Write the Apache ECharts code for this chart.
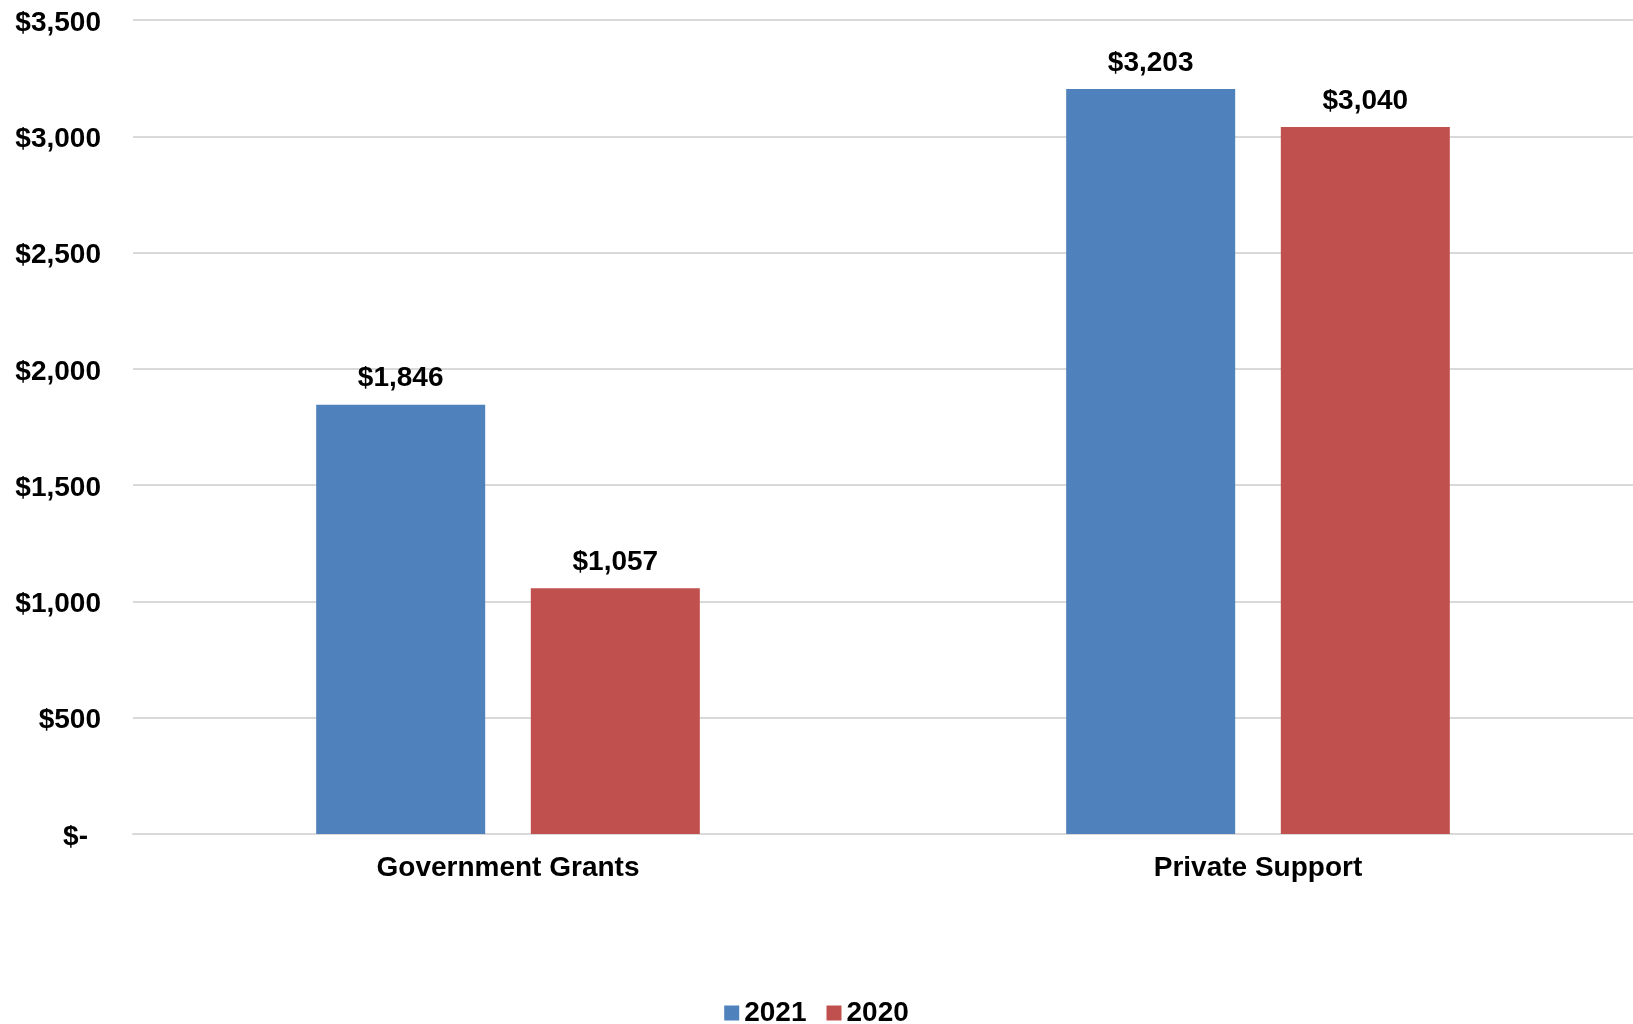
<!DOCTYPE html>
<html>
<head>
<meta charset="utf-8">
<script src="https://cdn.jsdelivr.net/npm/echarts@6/dist/echarts.min.js"></script>
<style>
  html, body { margin: 0; padding: 0; background: #fff; }
  #chart { width: 1633px; height: 1024px; }
</style>
</head>
<body>
<div id="chart"></div>
<script>
const categories = ['Government Grants', 'Private Support'];
const seriesNames = ['2021', '2020'];
const values2021 = [1846, 3203];
const values2020 = [1057, 3040];
const yTicks = [0, 500, 1000, 1500, 2000, 2500, 3000, 3500];

const FONT = '"Liberation Sans", Arial, sans-serif';
const FS = 28;

const money = (v) => '$' + Number(v).toLocaleString('en-US');

const chart = echarts.init(document.getElementById('chart'));

const labelStyle = {
  show: true,
  position: 'top',
  distance: 12,
  fontFamily: FONT,
  fontWeight: 'bold',
  fontSize: FS,
  color: '#000',
  formatter: (p) => money(p.value)
};

const option = {
  animation: false,
  backgroundColor: '#fff',
  grid: {
    left: 133,
    width: 1506,
    top: 20,
    bottom: 190
  },
  legend: {
    data: seriesNames,
    top: 994,
    left: 'center',
    itemWidth: 15,
    itemHeight: 15,
    itemGap: 20,
    icon: 'rect',
    textStyle: {
      fontFamily: FONT,
      fontWeight: 'bold',
      fontSize: FS,
      color: '#000'
    }
  },
  xAxis: {
    type: 'category',
    data: categories,
    axisLine: { show: true, lineStyle: { color: '#d9d9d9', width: 2 } },
    axisTick: { show: false },
    axisLabel: {
      margin: 20,
      fontFamily: FONT,
      fontWeight: 'bold',
      fontSize: FS,
      color: '#000'
    }
  },
  yAxis: {
    type: 'value',
    min: yTicks[0],
    max: yTicks[yTicks.length - 1],
    interval: 500,
    axisLine: { show: false },
    axisTick: { show: false },
    splitLine: { lineStyle: { color: '#d9d9d9', width: 2 } },
    axisLabel: {
      margin: 32,
      formatter: (v) => (v === 0 ? '{dash|$-}' : '{v|' + money(v) + '}'),
      rich: {
        v: {
          fontFamily: FONT,
          fontWeight: 'bold',
          fontSize: FS,
          color: '#000',
          padding: [6, 0, 0, 0]
        },
        dash: {
          fontFamily: FONT,
          fontWeight: 'bold',
          fontSize: FS,
          color: '#000',
          padding: [6, 13, 0, 0]
        }
      }
    }
  },
  series: [
    {
      name: seriesNames[0],
      type: 'bar',
      data: values2021,
      barWidth: 169,
      barGap: '27%',
      itemStyle: { color: '#4F81BD' },
      label: labelStyle
    },
    {
      name: seriesNames[1],
      type: 'bar',
      data: values2020,
      barWidth: 169,
      barGap: '27%',
      itemStyle: { color: '#C0504D' },
      label: labelStyle
    }
  ]
};

chart.setOption(option);
</script>
</body>
</html>
